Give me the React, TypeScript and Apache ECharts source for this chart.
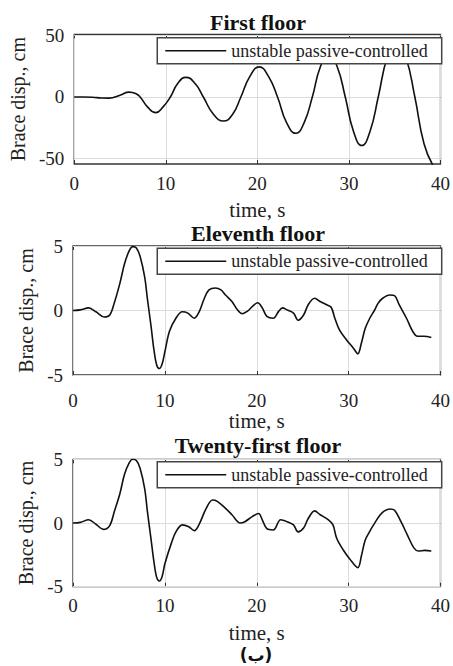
import React, { useEffect, useRef } from "react";
import * as echarts from "echarts";

const seriesName = "unstable passive-controlled";
const panelTitles = ["First floor", "Eleventh floor", "Twenty-first floor"];
const xTicks = [0, 10, 20, 30, 40];
const yTicksFirst = [-50, 0, 50];
const yTicksUpper = [-5, 0, 5];

// [time s, brace displacement cm]
const firstFloor = [
  [0, 0], [1, 0], [2, -0.2], [3, -0.8], [3.8, -0.9], [5, 1.5], [6, 4], [6.8, 2.5],
  [7.2, 0], [8, -8], [8.9, -12.7], [9.7, -8], [10.5, 0], [11.3, 11], [12.2, 16],
  [13.2, 11], [14.1, 0], [15.2, -14], [16.3, -19.5], [17.3, -14], [18.2, 0],
  [19.2, 17], [20.2, 24.5], [21.2, 17], [22.2, 0], [23.2, -21], [24.2, -29.5],
  [25.1, -21], [26.0, 0], [26.9, 25], [27.8, 35], [28.7, 25], [29.6, 0],
  [30.5, -28], [31.4, -39.5], [32.3, -28], [33.2, 0], [34.2, 33], [35.2, 47],
  [36.2, 33], [37.2, 0], [38.2, -38], [39.2, -56],
];

const eleventhFloor = [
  [0, 0], [0.8, 0.05], [1.7, 0.2], [2.5, -0.1], [3.4, -0.5], [4.0, -0.35], [4.5, 0.6],
  [5.1, 2.1], [5.6, 3.6], [6.1, 4.6], [6.5, 4.95], [6.9, 4.85], [7.3, 4.2], [7.8, 2.6],
  [8.1, 0.9], [8.5, -1.25], [8.8, -3.0], [9.1, -4.2], [9.4, -4.5], [9.7, -4.15],
  [10.0, -3.2], [10.5, -1.6], [11.2, -0.6], [11.9, -0.1], [12.5, -0.2], [13.2, -0.6],
  [13.7, -0.15], [14.3, 0.95], [14.8, 1.6], [15.5, 1.75], [16.1, 1.6], [16.6, 1.2],
  [17.3, 0.7], [17.9, 0.05], [18.4, -0.25], [19.0, -0.05], [19.5, 0.3], [20.1, 0.6],
  [20.6, 0.2], [21.1, -0.45], [21.8, -0.6], [22.4, -0.05], [22.8, 0.2], [23.3, 0.05],
  [24.0, -0.2], [24.5, -0.75], [25.1, -0.35], [25.6, 0.45], [26.3, 0.95], [26.9, 0.7],
  [27.6, 0.45], [28.1, 0.25], [28.5, -0.6], [29.0, -1.5], [29.8, -2.3], [30.5, -2.9],
  [31.0, -3.35], [31.4, -2.5], [31.8, -1.4], [32.3, -0.6], [32.8, 0.0], [33.2, 0.55],
  [33.7, 0.95], [34.5, 1.2], [35.0, 1.15], [35.5, 0.45], [36.3, -0.6], [37.0, -1.65],
  [37.5, -2.0], [38.2, -2.0], [39.0, -2.1],
];

const twentyFirstFloor = [
  [0, 0], [0.8, 0.05], [1.7, 0.25], [2.5, -0.1], [3.3, -0.5], [4.0, -0.2], [4.5, 0.9],
  [5.1, 2.3], [5.6, 3.8], [6.1, 4.7], [6.5, 5.0], [6.9, 4.9], [7.3, 4.3], [7.8, 2.7],
  [8.1, 0.9], [8.5, -1.3], [8.8, -3.0], [9.1, -4.25], [9.4, -4.55], [9.7, -4.2],
  [10.0, -3.2], [10.7, -1.6], [11.2, -0.7], [11.9, -0.15], [12.6, -0.3], [13.2, -0.6],
  [13.7, -0.15], [14.5, 1.15], [15.2, 1.8], [15.7, 1.7], [16.6, 1.15], [17.3, 0.65],
  [18.2, 0.0], [18.7, 0.1], [19.5, 0.5], [20.2, 0.75], [20.6, 0.25], [21.1, -0.45],
  [21.8, -0.55], [22.6, 0.25], [23.3, 0.1], [24.0, -0.15], [24.5, -0.7], [25.1, -0.4],
  [25.6, 0.35], [26.3, 0.95], [26.9, 0.65], [27.8, 0.25], [28.3, -0.15], [28.7, -1.2],
  [29.4, -2.1], [30.1, -2.8], [31.0, -3.5], [31.4, -2.55], [31.8, -1.35], [32.3, -0.65],
  [32.8, -0.05], [33.4, 0.6], [33.9, 0.95], [34.5, 1.1], [35.0, 1.0], [35.7, 0.1],
  [36.4, -0.95], [37.1, -1.95], [37.6, -2.2], [38.3, -2.15], [39.0, -2.2],
];

const FONT = "Liberation Serif";
const TEXT = "#222";
const BOX = "#333";
const GRIDC = "#dcdcdc";

const tick = (extra: any = {}) => ({
  show: true,
  inside: true,
  length: 4,
  lineStyle: { color: BOX },
  ...extra,
});
const axLine = () => ({ show: false, onZero: false });

export default function App() {
  const ref = useRef<HTMLDivElement>(null);

  useEffect(() => {
    if (!ref.current) return;
    const chart = echarts.init(ref.current, undefined, { renderer: "svg" });

    const layout = [
      { top: 34.3, height: 129.7, titleTop: 11, tickMargin: 10, yNameGap: 46, legendTop: 37.7 },
      { top: 246, height: 129, titleTop: 222.5, tickMargin: 16, yNameGap: 37, legendTop: 248.3 },
      { top: 459.3, height: 127.4, titleTop: 434, tickMargin: 9, yNameGap: 37, legendTop: 461.7 },
    ];
    const datasets = [firstFloor, eleventhFloor, twentyFirstFloor];
    const yTickSets = [yTicksFirst, yTicksUpper, yTicksUpper];
    const yRanges = [
      [-54.5, 51],
      [yTicksUpper[0], yTicksUpper[yTicksUpper.length - 1]],
      [yTicksUpper[0], yTicksUpper[yTicksUpper.length - 1]],
    ];

    const grids = layout.map((l) => ({
      left: 73,
      width: 370,
      top: l.top,
      height: l.height,
      show: true,
      borderColor: BOX,
      borderWidth: 1.3,
      backgroundColor: "transparent",
    }));

    const xAxes: any[] = layout.map((l, i) => ({
      type: "value",
      gridIndex: i,
      min: xTicks[0],
      max: xTicks[xTicks.length - 1],
      interval: 10,
      axisLine: axLine(),
      axisTick: tick(),
      axisLabel: { fontFamily: FONT, fontSize: 19, color: TEXT, margin: l.tickMargin },
      splitLine: { show: true, lineStyle: { color: GRIDC, width: 1 } },
      name: "time, s",
      nameLocation: "middle",
      nameGap: 35.5,
      nameTextStyle: { fontFamily: FONT, fontSize: 21, color: TEXT },
    }));
    layout.forEach((l, i) => {
      xAxes.push({
        type: "value",
        gridIndex: i,
        position: "top",
        min: xTicks[0],
        max: xTicks[xTicks.length - 1],
        interval: 10,
        axisLine: axLine(),
        axisTick: tick(),
        axisLabel: { show: false },
        splitLine: { show: false },
      });
    });

    const yAxes: any[] = layout.map((l, i) => ({
      type: "value",
      gridIndex: i,
      min: yRanges[i][0],
      max: yRanges[i][1],
      axisLine: axLine(),
      axisTick: tick({ customValues: yTickSets[i] }),
      axisLabel: { fontFamily: FONT, fontSize: 19, color: TEXT, margin: 10, customValues: yTickSets[i] },
      splitLine: { show: false },
      name: "Brace disp., cm",
      nameLocation: "middle",
      nameGap: l.yNameGap,
      nameTextStyle: { fontFamily: FONT, fontSize: 20, color: TEXT },
    }));
    layout.forEach((l, i) => {
      yAxes.push({
        type: "value",
        gridIndex: i,
        position: "right",
        min: yRanges[i][0],
        max: yRanges[i][1],
        axisLine: axLine(),
        axisTick: tick({ customValues: yTickSets[i] }),
        axisLabel: { show: false, customValues: yTickSets[i] },
        splitLine: { show: false },
      });
    });

    const series = datasets.map((d, i) => ({
      type: "line",
      name: seriesName,
      xAxisIndex: i,
      yAxisIndex: i,
      data: d,
      showSymbol: false,
      symbol: "none",
      smooth: i === 0 ? 0.5 : 0.35,
      clip: true,
      lineStyle: { color: "#111", width: 1.6 },
      itemStyle: { color: "#111" },
      z: 3,
      markLine: {
        silent: true,
        symbol: "none",
        label: { show: false },
        lineStyle: { color: GRIDC, width: 1, type: "solid" },
        z: 1,
        data: yTickSets[i].map((v) => ({ yAxis: v })),
      },
    }));

    const legends = layout.map((l) => ({
      data: [seriesName],
      right: 11.3,
      top: l.legendTop,
      orient: "horizontal",
      backgroundColor: "#fff",
      borderColor: "#444",
      borderWidth: 1.5,
      borderRadius: 0,
      padding: [4, 14, 4, 8],
      itemWidth: 61,
      itemHeight: 1.6,
      icon: "rect",
      selectedMode: false,
      textStyle: { fontFamily: FONT, fontSize: 18, color: TEXT },
    }));

    const titles = layout.map((l, i) => ({
      text: panelTitles[i],
      left: 258,
      textAlign: "center",
      top: l.titleTop,
      padding: 0,
      textStyle: { fontFamily: FONT, fontSize: 22, fontWeight: "bold", color: "#111" },
    }));

    chart.setOption({
      animation: false,
      backgroundColor: "#fff",
      title: titles,
      legend: legends,
      grid: grids,
      xAxis: xAxes,
      yAxis: yAxes,
      series,
      graphic: [
        {
          type: "text",
          x: 256,
          y: 655,
          style: {
            text: "(ب)",
            fontFamily: "DejaVu Sans",
            fontSize: 17,
            fontWeight: "bold",
            fill: "#111",
            align: "center",
            verticalAlign: "middle",
          },
        },
      ],
    });

    return () => chart.dispose();
  }, []);

  return (
    <div
      ref={ref}
      style={{ position: "fixed", left: 0, top: 0, width: 453, height: 666, background: "#fff" }}
    />
  );
}
